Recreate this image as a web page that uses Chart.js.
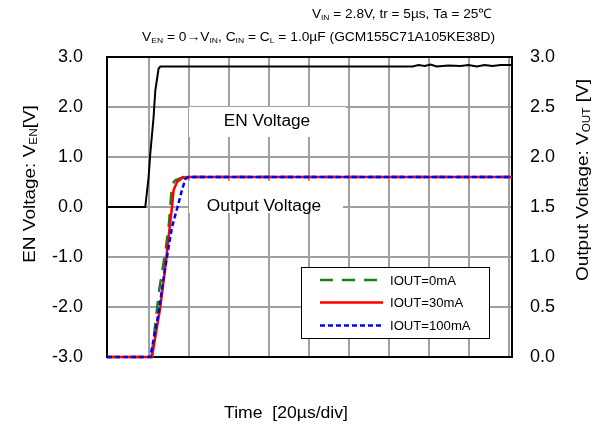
<!DOCTYPE html>
<html>
<head>
<meta charset="utf-8">
<script src="https://cdn.jsdelivr.net/npm/chart.js@4.4.0/dist/chart.umd.min.js"></script>
<style>
  html, body { margin: 0; padding: 0; background: #fff; }
</style>
</head>
<body>
<canvas id="chart" width="603" height="427"></canvas>
<script>
// time axis in microseconds, grid every 20us
const timeGrid = [20, 40, 60, 80, 100, 120, 140, 160, 180, 200];
const enTicks = [-3, -2, -1, 0, 1, 2, 3];
const outTicks = [0, 0.5, 1.0, 1.5, 2.0, 2.5, 3.0];

// EN voltage (left axis)
const enTime = [-0.8, 18.35, 20.0, 20.85, 22.5, 23.35, 25.0, 25.85, 152, 155, 158, 161, 164, 170, 176, 180, 184, 188, 192, 196, 201.7];
const enVolt = [0, 0, 0.6, 1.07, 1.8, 2.33, 2.77, 2.81, 2.81, 2.84, 2.82, 2.85, 2.81, 2.83, 2.82, 2.84, 2.81, 2.84, 2.82, 2.84, 2.84];

// output voltage (right axis)
const out0Time = [-0.8, 21.5, 22.2, 25.3, 28.5, 30.2, 31.2, 31.8, 33.5, 37.5, 201.7];
const out0Volt = [0, 0, 0.13, 0.67, 1.07, 1.34, 1.6, 1.73, 1.77, 1.8, 1.8];
const out30Time = [-0.8, 21.7, 23.35, 25.85, 28.35, 30.0, 31.7, 32.5, 34.2, 36.7, 39.2, 201.7];
const out30Volt = [0, 0, 0.2, 0.5, 0.9, 1.2, 1.5, 1.67, 1.75, 1.79, 1.8, 1.8];
const out100Time = [-0.8, 20.85, 25.0, 28.35, 31.7, 35.0, 36.7, 38.35, 40.0, 201.7];
const out100Volt = [0, 0, 0.44, 0.9, 1.3, 1.54, 1.67, 1.78, 1.8, 1.8];

const seriesNames = ["IOUT=0mA", "IOUT=30mA", "IOUT=100mA"];

function toPoints(xs, ys) {
  return xs.map((x, i) => ({ x: x, y: ys[i] }));
}

const FONT = "'Liberation Sans', Arial, sans-serif";

// draws text made of parts, some of them subscript
function drawRich(ctx, parts, x, y, size, align, sx) {
  ctx.save();
  ctx.translate(x, y);
  ctx.scale(sx, 1);
  let total = 0;
  parts.forEach((p) => {
    ctx.font = (p.sub ? size * 0.62 : size) + "px " + FONT;
    total += ctx.measureText(p.t).width;
  });
  let cx = align === "right" ? -total : align === "center" ? -total / 2 : 0;
  ctx.fillStyle = "#000";
  ctx.textBaseline = "alphabetic";
  ctx.textAlign = "left";
  parts.forEach((p) => {
    ctx.font = (p.sub ? size * 0.62 : size) + "px " + FONT;
    ctx.fillText(p.t, cx, p.sub ? size * 0.15 : 0);
    cx += ctx.measureText(p.t).width;
  });
  ctx.restore();
}

const decor = {
  id: "decor",
  beforeDatasetsDraw(chart) {
    const ctx = chart.ctx;
    const a = chart.chartArea;
    ctx.save();
    ctx.fillStyle = "#fff";
    ctx.fillRect(189, 107, 157, 30);
    ctx.fillRect(189, 181, 154, 32);
    ctx.strokeStyle = "#000";
    ctx.lineWidth = 2;
    ctx.strokeRect(a.left, a.top, a.right - a.left, a.bottom - a.top);
    ctx.restore();
  },
  afterDatasetsDraw(chart) {
    const ctx = chart.ctx;
    ctx.save();
    // labels inside plot
    drawRich(ctx, [{ t: "EN Voltage" }], 267, 126, 16, "center", 1.08);
    drawRich(ctx, [{ t: "Output Voltage" }], 264, 211, 16, "center", 1.08);

    // legend box
    ctx.fillStyle = "#fff";
    ctx.fillRect(301, 267, 188, 71);
    ctx.strokeStyle = "#000";
    ctx.lineWidth = 1;
    ctx.strokeRect(301.5, 267.5, 188, 71);
    const rows = [280, 302.5, 325.5];
    [1, 2, 3].forEach((di, i) => {
      const ds = chart.data.datasets[di];
      ctx.beginPath();
      ctx.strokeStyle = ds.borderColor;
      ctx.lineWidth = ds.borderWidth;
      ctx.setLineDash(ds.borderDash || []);
      ctx.moveTo(320, rows[i]);
      ctx.lineTo(383, rows[i]);
      ctx.stroke();
      ctx.setLineDash([]);
      drawRich(ctx, [{ t: seriesNames[i] }], 390, rows[i] + 4.5, 12.5, "left", 1.05);
    });

    // header lines
    drawRich(ctx, [{ t: "V" }, { t: "IN", sub: true }, { t: " = 2.8V, tr = 5\u00b5s, Ta = 25\u2103" }], 492, 18, 13, "right", 1.05);
    drawRich(ctx, [{ t: "V" }, { t: "EN", sub: true }, { t: " = 0\u2192V" }, { t: "IN", sub: true },
      { t: ", C" }, { t: "IN", sub: true }, { t: " = C" }, { t: "L", sub: true },
      { t: " = 1.0\u00b5F (GCM155C71A105KE38D)" }], 495, 41, 13, "right", 1.06);

    // axis titles
    ctx.save();
    ctx.translate(35, 184);
    ctx.rotate(-Math.PI / 2);
    drawRich(ctx, [{ t: "EN Voltage: V" }, { t: "EN", sub: true }, { t: "[V]" }], 0, 0, 16.5, "center", 1.15);
    ctx.restore();
    ctx.save();
    ctx.translate(588, 180);
    ctx.rotate(-Math.PI / 2);
    drawRich(ctx, [{ t: "Output Voltage: V" }, { t: "OUT", sub: true }, { t: " [V]" }], 0, 0, 16.5, "center", 1.15);
    ctx.restore();
    drawRich(ctx, [{ t: "Time  [20\u00b5s/div]" }], 286, 418, 16, "center", 1.1);
    ctx.restore();
  },
};

const ctx = document.getElementById("chart").getContext("2d");
new Chart(ctx, {
  type: "line",
  data: {
    datasets: [
      {
        label: "EN Voltage",
        data: toPoints(enTime, enVolt),
        yAxisID: "y",
        borderColor: "#000",
        borderWidth: 2,
        order: 4,
      },
      {
        label: seriesNames[0],
        data: toPoints(out0Time, out0Volt),
        yAxisID: "y2",
        borderColor: "#1a7f1a",
        borderWidth: 2.5,
        borderDash: [13, 9],
        order: 3,
      },
      {
        label: seriesNames[1],
        data: toPoints(out30Time, out30Volt),
        yAxisID: "y2",
        borderColor: "#ff0000",
        borderWidth: 2.5,
        order: 2,
      },
      {
        label: seriesNames[2],
        data: toPoints(out100Time, out100Volt),
        yAxisID: "y2",
        borderColor: "#0000ff",
        borderWidth: 2.5,
        borderDash: [5, 3],
        order: 1,
      },
    ],
  },
  options: {
    responsive: false,
    animation: false,
    layout: { padding: { top: 57, left: 0, right: 0, bottom: 0 } },
    elements: { point: { radius: 0 }, line: { tension: 0 } },
    datasets: { line: { clip: false } },
    plugins: {
      legend: { display: false },
      tooltip: { enabled: false },
    },
    scales: {
      x: {
        type: "linear",
        min: -0.8,
        max: 201.7,
        afterBuildTicks: (s) => { s.ticks = timeGrid.map((v) => ({ value: v })); },
        afterFit: (s) => { s.height = 70; },
        ticks: { display: false },
        grid: { color: "#a0a0a0", lineWidth: 2, drawTicks: false },
        border: { display: true, color: "#000", width: 2 },
      },
      y: {
        position: "left",
        min: -3,
        max: 3,
        afterBuildTicks: (s) => { s.ticks = enTicks.map((v) => ({ value: v })); },
        afterFit: (s) => { s.width = 107; },
        ticks: {
          callback: (v) => v.toFixed(1),
          color: "#000",
          padding: 24,
          font: { family: FONT, size: 18 },
        },
        grid: { color: "#a0a0a0", lineWidth: 2, drawTicks: false },
        border: { display: true, color: "#000", width: 2 },
      },
      y2: {
        position: "right",
        min: 0,
        max: 3,
        afterBuildTicks: (s) => { s.ticks = outTicks.map((v) => ({ value: v })); },
        afterFit: (s) => { s.width = 91; },
        ticks: {
          callback: (v) => v.toFixed(1),
          color: "#000",
          padding: 18,
          font: { family: FONT, size: 18 },
        },
        grid: { drawOnChartArea: false, drawTicks: false },
        border: { display: true, color: "#000", width: 2 },
      },
    },
  },
  plugins: [decor],
});
</script>
</body>
</html>
